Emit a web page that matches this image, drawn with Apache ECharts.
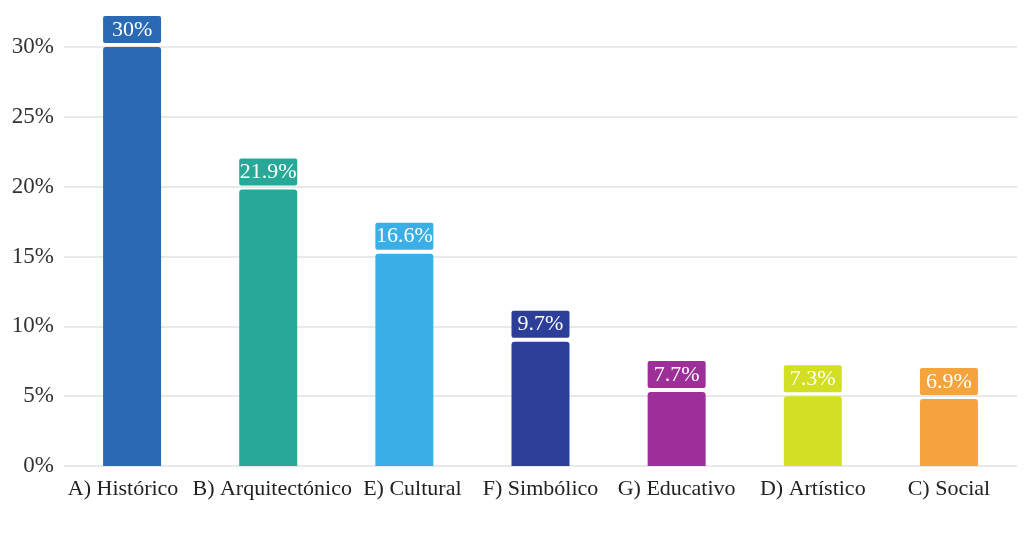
<!DOCTYPE html>
<html>
<head>
<meta charset="utf-8">
<script src="https://cdn.jsdelivr.net/npm/echarts@6/dist/echarts.min.js"></script>
<style>
  html, body { margin: 0; padding: 0; background: #fff; }
  #chart { width: 1025px; height: 556px; }
</style>
</head>
<body>
<div id="chart"></div>
<script>
// categorias (orden del grafico)
const categories = ['A) Histórico', 'B) Arquitectónico', 'E) Cultural', 'F) Simbólico', 'G) Educativo', 'D) Artístico', 'C) Social']
const barValues = [30, 19.8, 15.2, 8.9, 5.3, 5.0, 4.8]
// etiquetas impresas sobre cada barra
const barLabels = ['30%', '21.9%', '16.6%', '9.7%', '7.7%', '7.3%', '6.9%']
const barColors = ['#2a6ab4', '#27a898', '#3aaee6', '#2c3e98', '#9c2f98', '#d3df22', '#f5a33c']
const yTicks = [0, 5, 10, 15, 20, 25, 30]

const serif = '"Liberation Serif", "DejaVu Serif", serif'

const chart = echarts.init(document.getElementById('chart'))

// el texto largo de la segunda categoria empuja las etiquetas vecinas
const labelStyle = { fontFamily: serif, fontSize: 22, color: '#222' }
const labelPads = [[0, 18, 0, 0], [0, 0, 0, 8], [0, 0, 0, 16], null, null, null, null]

const option = {
  animation: false,
  grid: {
    left: 64,
    right: 8,
    top: 47,
    bottom: 90
  },
  xAxis: {
    type: 'category',
    data: categories,
    axisLine: { show: false },
    axisTick: { show: false },
    axisLabel: {
      fontFamily: serif,
      fontSize: 22,
      color: '#222',
      margin: 12,
      interval: 0,
      formatter: (v, i) => labelPads[i] ? '{p' + i + '|' + v + '}' : v,
      rich: {
        p0: { ...labelStyle, padding: labelPads[0] },
        p1: { ...labelStyle, padding: labelPads[1] },
        p2: { ...labelStyle, padding: labelPads[2] }
      }
    }
  },
  yAxis: {
    type: 'value',
    min: yTicks[0],
    max: yTicks[yTicks.length - 1],
    interval: 5,
    axisLine: { show: false },
    axisTick: { show: false },
    splitLine: { lineStyle: { color: '#e2e2e2', width: 1.5 } },
    axisLabel: {
      fontFamily: serif,
      fontSize: 23,
      color: '#333',
      margin: 10,
      formatter: '{value}%'
    }
  },
  series: [
    {
      type: 'bar',
      barWidth: 58,
      data: barValues.map((v, i) => ({
        value: v,
        itemStyle: { color: barColors[i], borderRadius: [3, 3, 0, 0] },
        label: { backgroundColor: barColors[i] }
      })),
      label: {
        show: true,
        position: 'top',
        distance: 4,
        formatter: p => barLabels[p.dataIndex],
        fontFamily: serif,
        fontSize: 22,
        color: '#fff',
        width: 58,
        align: 'center',
        lineHeight: 24,
        padding: [2, 0, 1, 0],
        borderRadius: 2
      }
    }
  ]
}

chart.setOption(option)
window.addEventListener('resize', () => chart.resize())
</script>
</body>
</html>
